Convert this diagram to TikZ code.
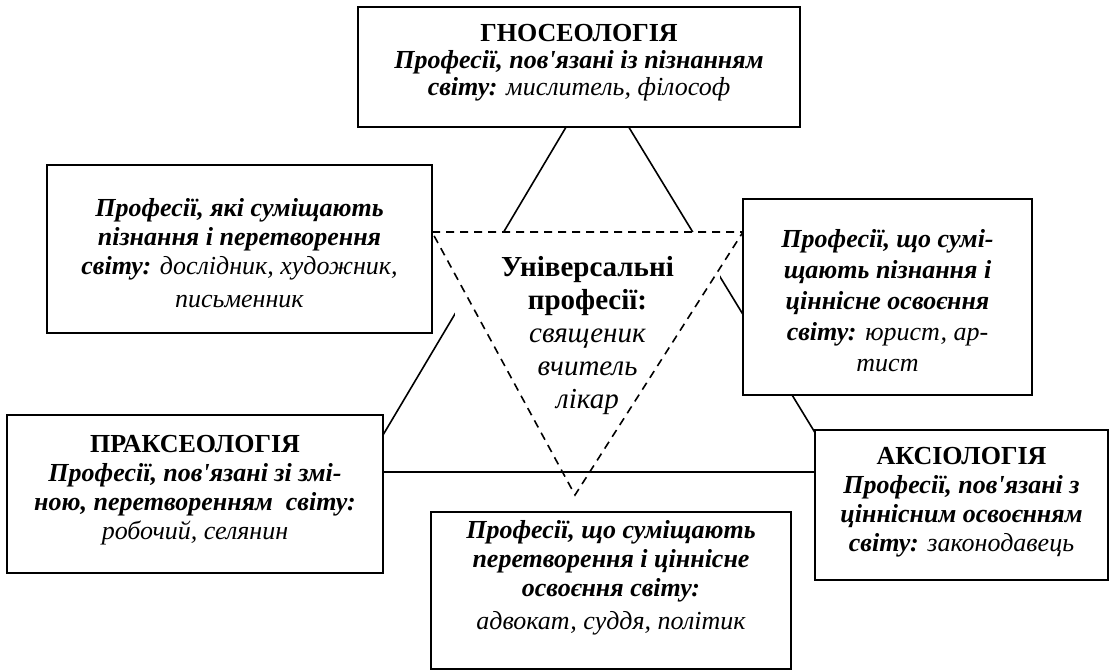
\documentclass[tikz,border=0pt]{standalone}
\usepackage{fontspec}
\setmainfont{Liberation Serif}

\newcommand{\descr}[1]{\textbf{\textit{#1}}}
\newcommand{\names}[1]{\textit{#1}}

\begin{document}
\begin{tikzpicture}[x=0.5pt, y=-0.5pt,
	box/.style={draw, line width=1pt, fill=white, inner sep=0pt},
	txt/.style={align=center, inner sep=0pt, font=\fontsize{13}{14.5}\selectfont},
	link/.style={line width=0.8pt},
	dashtri/.style={line width=0.8pt, dash pattern=on 4pt off 3pt}]
\useasboundingbox (0,0) rectangle (1111,670);

% solid triangle, hidden behind the boxes
	\coordinate (tg) at (597,75);
	\coordinate (tl) at (361,472);
	\coordinate (tr) at (839,472);
	\draw[link] (tg) -- (tl) -- (tr) -- cycle;

% white field of the centre text
	\node[fill=white, inner sep=0pt, minimum width=132.5pt, minimum height=104pt,
		align=center, font=\fontsize{14.5}{16.5}\selectfont] (univ) at (587.5,336)
		{\textbf{Універсальні}\\ \textbf{професії:}\\ \names{священик}\\ \names{вчитель}\\ \names{лікар}};

% dashed triangle
	\coordinate (dl) at (432,232);
	\coordinate (dr) at (743,232);
	\coordinate (db) at (575,495);
	\draw[dashtri] (dl) -- (dr) -- (db) -- cycle;

% main fields
	\node[box, minimum width=221pt, minimum height=60pt] (gnos) at (579,67) {};
	\node[txt, yshift=2pt] (gnos-t) at (gnos)
		{\textbf{ГНОСЕОЛОГІЯ}\\[-1pt] \descr{Професії, пов\textquotesingle язані із пізнанням}\\[-1pt]
		\descr{світу:} \names{мислитель, філософ}};
	\node[box, minimum width=188pt, minimum height=79pt] (prax) at (195,494) {};
	\node[txt, yshift=2pt] (prax-t) at (prax)
		{\textbf{ПРАКСЕОЛОГІЯ}\\ \descr{Професії, пов\textquotesingle язані зі змі-}\\
		\descr{ною, перетворенням\ \ світу:}\\ \names{робочий, селянин}};
	\node[box, minimum width=146.5pt, minimum height=75pt] (axio) at (961.5,505) {};
	\node[txt, yshift=1.5pt] (axio-t) at (axio)
		{\textbf{АКСІОЛОГІЯ}\\ \descr{Професії, пов\textquotesingle язані з}\\
		\descr{ціннісним освоєнням}\\ \descr{світу:} \names{законодавець}};

% mixed fields
	\node[box, minimum width=192.5pt, minimum height=84pt] (cognprax) at (239.5,249) {};
	\node[txt, yshift=-2pt] (cognprax-t) at (cognprax)
		{\descr{Професії, які суміщають}\\ \descr{пізнання і перетворення}\\
		\descr{світу:} \names{дослідник, художник,}\\[2pt] \names{письменник}};
	\node[box, minimum width=144.5pt, minimum height=98pt] (cognaxio) at (887.5,297) {};
	\node[txt, yshift=-2pt] (cognaxio-t) at (cognaxio)
		{\descr{Професії, що сумі-}\\[1pt] \descr{щають пізнання і}\\[1pt]
		\descr{ціннісне освоєння}\\[1pt] \descr{світу:} \names{юрист, ар-}\\[1pt] \names{тист}};
	\node[box, minimum width=180pt, minimum height=78.5pt] (praxaxio) at (611,590.5) {};
	\node[txt, yshift=6.5pt] (praxaxio-t) at (praxaxio)
		{\descr{Професії, що суміщають}\\ \descr{перетворення і ціннісне}\\
		\descr{освоєння світу:}\\[2pt] \names{адвокат, суддя, політик}};
\end{tikzpicture}
\end{document}
